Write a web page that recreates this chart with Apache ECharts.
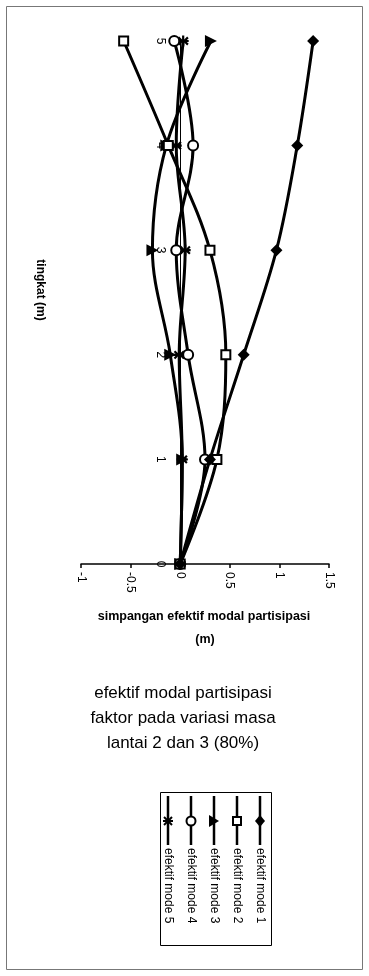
<!DOCTYPE html>
<html>
<head>
<meta charset="utf-8">
<script src="https://cdn.jsdelivr.net/npm/echarts@6/dist/echarts.min.js"></script>
<style>
html,body{margin:0;padding:0;background:#fff;}
#chart{width:369px;height:976px;}
</style>
</head>
<body>
<div id="chart"></div>
<script>
// ---- data ----
var levels = [0, 1, 2, 3, 4, 5];
var mode1 = [0, 0.30, 0.64, 0.97, 1.18, 1.34];
var mode2 = [0, 0.37, 0.46, 0.30, -0.12, -0.57];
var mode3 = [0, 0.02, -0.10, -0.28, -0.14, 0.31];
var mode4 = [0, 0.25, 0.08, -0.04, 0.13, -0.06];
var mode5 = [0, 0.02, -0.01, 0.05, -0.04, 0.03];
var seriesNames = ['efektif mode 1', 'efektif mode 2', 'efektif mode 3', 'efektif mode 4', 'efektif mode 5'];
var xTicks = [-1, -0.5, 0, 0.5, 1, 1.5];
var titleLines = ['efektif modal partisipasi', 'faktor pada variasi masa', 'lantai 2 dan 3 (80%)'];
var xAxisTitle = ['simpangan efektif modal partisipasi', '(m)'];
var yAxisTitle = 'tingkat (m)';

var FONT = '"Liberation Sans", Arial, sans-serif';
var ASTER = 'path://M4,0 L6,0 L6,3.6 L8.6,1 L10,2.4 L7.4,5 L10,7.6 L8.6,9 L6,6.4 L6,10 L4,10 L4,6.4 L1.4,9 L0,7.6 L2.6,5 L0,2.4 L1.4,1 L4,3.6 Z M0,4 L10,4 L10,6 L0,6 Z';

var styles = [
  {symbol: 'diamond', size: 12, rot: 0, fill: '#000'},
  {symbol: 'rect', size: 9, rot: 0, fill: '#fff'},
  {symbol: 'triangle', size: 12, rot: -90, fill: '#000'},
  {symbol: 'circle', size: 10, rot: 0, fill: '#fff'},
  {symbol: ASTER, size: 11, rot: 0, fill: '#000'}
];
var allData = [mode1, mode2, mode3, mode4, mode5];

function pairs(vals) {
  return vals.map(function (v, i) { return [v, levels[i]]; });
}

var series = allData.map(function (vals, i) {
  var s = styles[i];
  return {
    name: seriesNames[i],
    type: 'line',
    smooth: 0.35,
    data: pairs(vals),
    symbol: s.symbol,
    symbolSize: s.size,
    symbolRotate: s.rot,
    showAllSymbol: true,
    lineStyle: {color: '#000', width: 3},
    itemStyle: {color: s.fill, borderColor: '#000', borderWidth: s.fill === '#fff' ? 2 : 0, opacity: 1},
    z: 5 - i
  };
});

// grid geometry
var GRID_LEFT = 81, GRID_W = 248;
var xMin = xTicks[0], xMax = xTicks[xTicks.length - 1];
var zeroOffset = -GRID_W * (0 - xMin) / (xMax - xMin);

// ---- legend built as graphic ----
var legendX = [260, 237, 214, 191, 168];
var graphics = [];
graphics.push({type: 'rect', shape: {x: 6.5, y: 6.5, width: 356, height: 963}, style: {fill: 'none', stroke: '#777', lineWidth: 1}, silent: true});
graphics.push({type: 'rect', shape: {x: 160.5, y: 792.5, width: 111, height: 153}, style: {fill: '#fff', stroke: '#000', lineWidth: 1}});
function legendSymbol(i, x, y) {
  if (i === 0) return {type: 'polygon', shape: {points: [[x, y - 6], [x + 5, y], [x, y + 6], [x - 5, y]]}, style: {fill: '#000'}};
  if (i === 1) return {type: 'rect', shape: {x: x - 4, y: y - 4, width: 8, height: 8}, style: {fill: '#fff', stroke: '#000', lineWidth: 2}};
  if (i === 2) return {type: 'polygon', shape: {points: [[x - 5, y - 6], [x + 5, y], [x - 5, y + 6]]}, style: {fill: '#000'}};
  if (i === 3) return {type: 'circle', shape: {cx: x, cy: y, r: 4.5}, style: {fill: '#fff', stroke: '#000', lineWidth: 2}};
  return {type: 'group', children: [
    {type: 'line', shape: {x1: x - 5, y1: y, x2: x + 5, y2: y}, style: {stroke: '#000', lineWidth: 2}},
    {type: 'line', shape: {x1: x, y1: y - 5, x2: x, y2: y + 5}, style: {stroke: '#000', lineWidth: 2}},
    {type: 'line', shape: {x1: x - 4, y1: y - 4, x2: x + 4, y2: y + 4}, style: {stroke: '#000', lineWidth: 2}},
    {type: 'line', shape: {x1: x - 4, y1: y + 4, x2: x + 4, y2: y - 4}, style: {stroke: '#000', lineWidth: 2}}
  ]};
}
seriesNames.forEach(function (name, i) {
  var x = legendX[i];
  graphics.push({type: 'line', shape: {x1: x, y1: 796, x2: x, y2: 845}, style: {stroke: '#000', lineWidth: 2.5}});
  graphics.push(legendSymbol(i, x, 821));
  graphics.push({type: 'text', x: x, y: 848, rotation: -Math.PI / 2,
    style: {text: name, fill: '#000', font: '12px ' + FONT, textAlign: 'left', textVerticalAlign: 'middle'}});
});

// axis titles & chart title
graphics.push({type: 'text', x: 40, y: 290, rotation: -Math.PI / 2,
  style: {text: yAxisTitle, fill: '#000', font: 'bold 12px ' + FONT, textAlign: 'center', textVerticalAlign: 'middle'}});
graphics.push({type: 'text', x: 204, y: 617,
  style: {text: xAxisTitle[0], fill: '#000', font: 'bold 12.5px ' + FONT, textAlign: 'center', textVerticalAlign: 'middle'}});
graphics.push({type: 'text', x: 205, y: 640,
  style: {text: xAxisTitle[1], fill: '#000', font: 'bold 12.5px ' + FONT, textAlign: 'center', textVerticalAlign: 'middle'}});
titleLines.forEach(function (t, i) {
  graphics.push({type: 'text', x: 183, y: 693 + i * 25,
    style: {text: t, fill: '#000', font: '17px ' + FONT, textAlign: 'center', textVerticalAlign: 'middle'}});
});

var chart = echarts.init(document.getElementById('chart'), null, {renderer: 'canvas'});
chart.setOption({
  backgroundColor: '#fff',
  animation: false,
  grid: {left: GRID_LEFT, width: GRID_W, top: 41, bottom: 412, containLabel: false},
  xAxis: {
    type: 'value', min: xMin, max: xMax, interval: 0.5,
    splitLine: {show: false},
    axisLine: {show: true, onZero: false, lineStyle: {color: '#000', width: 1.5}},
    axisTick: {show: true, inside: false, length: 4, lineStyle: {color: '#000', width: 1.5}},
    axisLabel: {rotate: -90, margin: 8, color: '#000', fontSize: 12, fontFamily: FONT}
  },
  yAxis: {
    type: 'value', min: 0, max: 5, interval: 1,
    offset: zeroOffset,
    splitLine: {show: false},
    axisLine: {show: true, onZero: false, lineStyle: {color: '#000', width: 1}},
    axisTick: {show: false},
    axisLabel: {rotate: -90, margin: 14, color: '#000', fontSize: 12, fontFamily: FONT}
  },
  series: series,
  graphic: graphics
});
</script>
</body>
</html>
